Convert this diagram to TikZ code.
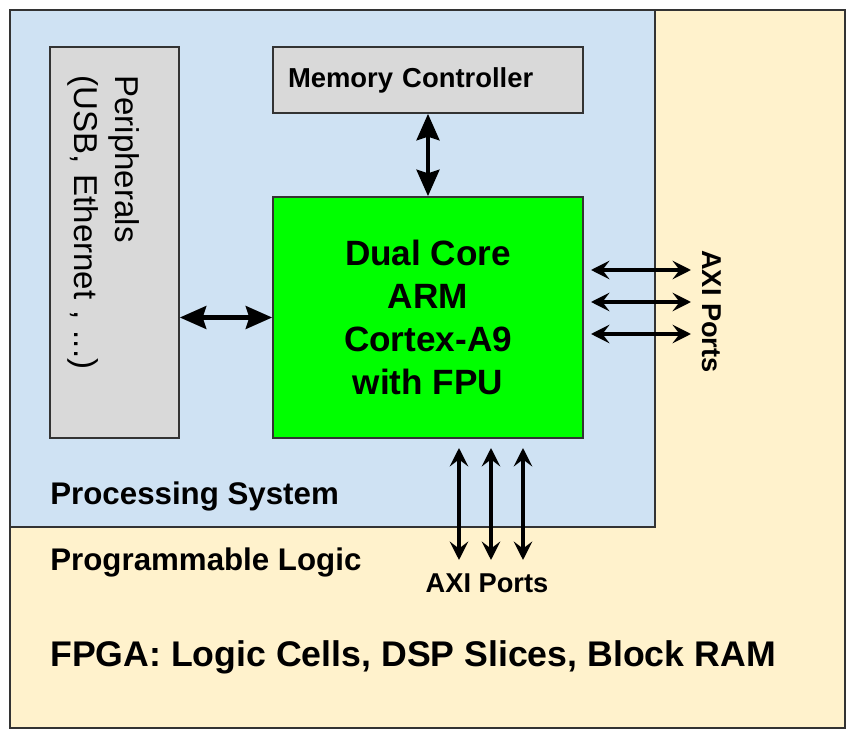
\documentclass[tikz,border=0pt]{standalone}
\usepackage{fontspec}
\setmainfont{Liberation Sans}
\usetikzlibrary{arrows.meta}

\definecolor{psblue}{HTML}{CFE2F3}
\definecolor{plcream}{HTML}{FFF2CC}
\definecolor{boxgray}{HTML}{D9D9D9}
\definecolor{cpugreen}{HTML}{00FF00}
\definecolor{edge}{HTML}{333333}

\begin{document}
\begin{tikzpicture}
[x = 0.02cm, y = -0.02cm,
 block/.style = {shape = rectangle, draw = edge, line width = 1pt, inner sep = 0pt},
 caption/.style = {inner sep = 0pt, font = \fontsize{17.8}{21}\selectfont\bfseries},
 bus/.style = {line width = 2.3pt, >={Stealth[length=15pt, width=13pt, inset=2pt]}, <->},
 axi/.style = {line width = 2pt, >={Stealth[length=10.5pt, width=10.5pt, inset=4pt]}, <->}]
\useasboundingbox (0,0) rectangle (850,733);
% the two regions of the chip
\node[block, fill = plcream, minimum width = 16.7cm, minimum height = 14.36cm] (fpga) at (427.5,369) {};
\node[block, fill = psblue, minimum width = 12.9cm, minimum height = 10.34cm] (ps) at (332.5,268.5) {};
% blocks of the processing system
\node[block, fill = boxgray, rotate = -90, minimum width = 7.82cm, minimum height = 2.58cm,
      inner xsep = 0.56cm, text width = 6.68cm, align = left, text height = 13.6pt, text depth = 14.2pt,
      font = \fontsize{18.8}{23.2}\selectfont] (periph) at (114.5,242.5)
      {Peripherals\\(USB, Ethernet , ...)};
\node[block, fill = boxgray, minimum width = 6.2cm, minimum height = 1.32cm,
      inner xsep = 0.3cm, text width = 5.6cm, align = left,
      font = \fontsize{15.6}{18}\selectfont\bfseries] (memctrl) at (428,80) {Memory Controller};
\node[block, fill = cpugreen, minimum width = 6.2cm, minimum height = 4.82cm, align = center,
      font = \fontsize{20}{24.4}\selectfont\bfseries] (arm) at (428,317.5)
      {Dual Core\\ARM\\Cortex-A9\\with FPU};
% texts
\node[caption, anchor = base west] (pslabel) at (50,505) {Processing System};
\node[caption, anchor = base west] (pllabel) at (50,571) {Programmable Logic};
\node[caption, anchor = base west, font = \fontsize{20.3}{24}\selectfont\bfseries] (fpgalabel) at (50,667)
      {FPGA: Logic Cells, DSP Slices, Block RAM};
\node[inner sep = 0pt, anchor = base, font = \fontsize{15.5}{18}\selectfont\bfseries] (axibottom) at (487,593) {AXI Ports};
\node[inner sep = 0pt, anchor = base, rotate = -90, font = \fontsize{15.5}{18}\selectfont\bfseries] (axiright) at (702,311.5) {AXI Ports};
% connections
\draw[bus] (memctrl.south) -- (arm.north);
\draw[bus] (periph.north |- arm.west) -- (arm.west);
\foreach \y [count=\i] in {270,302,334}{
  \coordinate (rin\i) at (591,\y);
  \coordinate (rout\i) at (691,\y);
  \draw[axi] (rin\i) -- (rout\i);
}
\foreach \x [count=\i] in {459,491,523}{
  \coordinate (bin\i) at (\x,448);
  \coordinate (bout\i) at (\x,560);
  \draw[axi] (bin\i) -- (bout\i);
}
\end{tikzpicture}
\end{document}
